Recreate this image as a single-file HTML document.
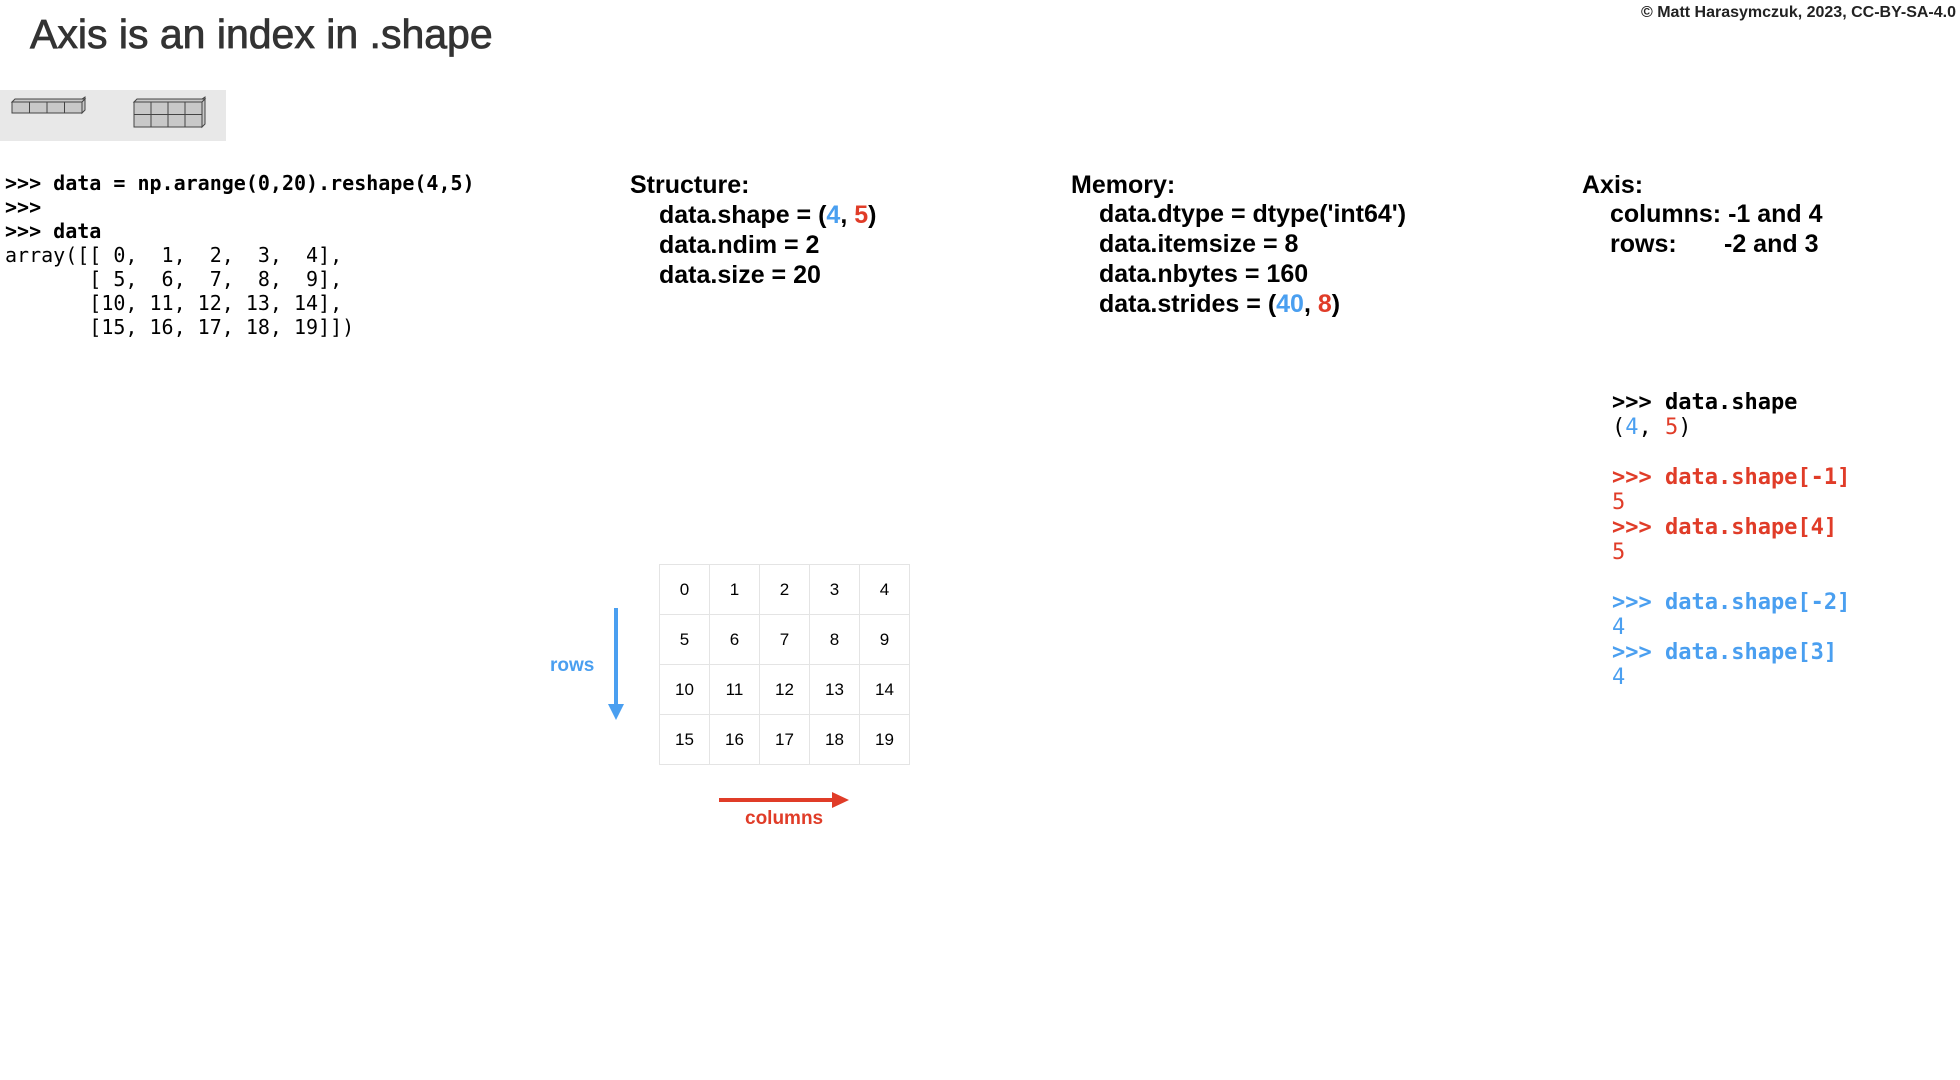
<!DOCTYPE html>
<html><head><meta charset="utf-8"><style>
body{margin:0;width:1960px;height:1080px;background:#fff;position:relative;overflow:hidden;font-family:"Liberation Sans",Arial,sans-serif;color:#000}
.a{position:absolute;white-space:pre}
.m{font-family:"DejaVu Sans Mono","Liberation Mono",monospace}
.b{font-weight:bold}
.bl{color:#4a9ff0}.rd{color:#e03c28}
.h{font-size:25px;font-weight:bold;line-height:30px}
table{position:absolute;left:659px;top:564px;border-collapse:collapse}
td{width:49px;height:49px;border:1px solid #e4e4e4;text-align:center;font-size:17px;padding:0}
</style></head><body>
<div class="a" style="left:30px;top:10px;font-size:41px;color:#333;line-height:48px;-webkit-text-stroke:0.8px #333">Axis is an index in .shape</div>
<div class="a b" style="right:4px;top:4px;font-size:16px;color:#222">© Matt Harasymczuk, 2023, CC-BY-SA-4.0</div>
<div class="a" style="left:0;top:90px;width:226px;height:51px;background:#e8e8e8"></div>
<svg class="a" style="left:0;top:90px" width="226" height="51">
<g fill="#c8c8c8" stroke="#444" stroke-width="1">
<polygon points="82,9 85,7 85,20 82,23"/>
<rect x="12" y="12" width="17.5" height="11"/><rect x="29.5" y="12" width="17.5" height="11"/><rect x="47" y="12" width="17.5" height="11"/><rect x="64.5" y="12" width="17.5" height="11"/>
<polygon points="12,12 15,9 85,9 82,12"/>
<polygon points="202,9 205,7 205,34 202,37"/>
<rect x="134" y="12" width="17" height="12.5"/><rect x="151" y="12" width="17" height="12.5"/><rect x="168" y="12" width="17" height="12.5"/><rect x="185" y="12" width="17" height="12.5"/>
<rect x="134" y="24.5" width="17" height="12.5"/><rect x="151" y="24.5" width="17" height="12.5"/><rect x="168" y="24.5" width="17" height="12.5"/><rect x="185" y="24.5" width="17" height="12.5"/>
<polygon points="134,12 137,9 205,9 202,12"/>
</g></svg>
<div class="a m" style="left:5px;top:171px;font-size:20px;line-height:24px"><b>&gt;&gt;&gt; data = np.arange(0,20).reshape(4,5)
&gt;&gt;&gt;
&gt;&gt;&gt; data</b>
array([[ 0,  1,  2,  3,  4],
       [ 5,  6,  7,  8,  9],
       [10, 11, 12, 13, 14],
       [15, 16, 17, 18, 19]])</div>
<div class="a h" style="left:630px;top:170px">Structure:</div>
<div class="a h" style="left:659px;top:200px">data.shape = (<span class="bl">4</span>, <span class="rd">5</span>)
data.ndim = 2
data.size = 20</div>
<div class="a h" style="left:1071px;top:170px">Memory:</div>
<div class="a h" style="left:1099px;top:199px">data.dtype = dtype('int64')
data.itemsize = 8
data.nbytes = 160
data.strides = (<span class="bl">40</span>, <span class="rd">8</span>)</div>
<div class="a h" style="left:1582px;top:170px">Axis:</div>
<div class="a h" style="left:1610px;top:199px">columns: -1 and 4</div>
<div class="a h" style="left:1610px;top:229px">rows:</div>
<div class="a h" style="left:1724px;top:229px">-2 and 3</div>
<div class="a m b" style="left:1612px;top:390px;font-size:22px;line-height:25px">&gt;&gt;&gt; data.shape
<span style="font-weight:normal">(<span class="bl">4</span>, <span class="rd">5</span>)</span>

<span class="rd">&gt;&gt;&gt; data.shape[-1]
<span style="font-weight:normal">5</span>
&gt;&gt;&gt; data.shape[4]
<span style="font-weight:normal">5</span></span>

<span class="bl">&gt;&gt;&gt; data.shape[-2]
<span style="font-weight:normal">4</span>
&gt;&gt;&gt; data.shape[3]
<span style="font-weight:normal">4</span></span></div>
<table>
<tr><td>0</td><td>1</td><td>2</td><td>3</td><td>4</td></tr>
<tr><td>5</td><td>6</td><td>7</td><td>8</td><td>9</td></tr>
<tr><td>10</td><td>11</td><td>12</td><td>13</td><td>14</td></tr>
<tr><td>15</td><td>16</td><td>17</td><td>18</td><td>19</td></tr>
</table>
<svg class="a" style="left:0;top:0" width="1960" height="1080">
<line x1="616" y1="608" x2="616" y2="705" stroke="#4a9ff0" stroke-width="4"/>
<polygon points="608,704 624,704 616,720" fill="#4a9ff0"/>
<line x1="719" y1="800" x2="834" y2="800" stroke="#e03c28" stroke-width="4"/>
<polygon points="832,792 849,800 832,808" fill="#e03c28"/>
</svg>
<div class="a b bl" style="left:550px;top:655px;font-size:19px">rows</div>
<div class="a b rd" style="left:745px;top:808px;font-size:19px">columns</div>
</body></html>
